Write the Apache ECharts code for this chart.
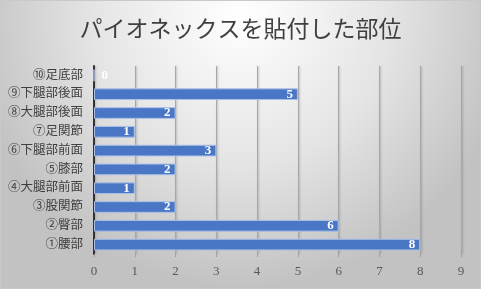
<!DOCTYPE html>
<html>
<head>
<meta charset="utf-8">
<script src="https://cdn.jsdelivr.net/npm/echarts@6/dist/echarts.min.js"></script>
<style>
  html, body { margin: 0; padding: 0; background: #fff; }
  #chart { width: 481px; height: 289px; box-sizing: border-box; border: 1px solid #c9c9c9; }
</style>
</head>
<body>
<div id="chart"></div>
<script>
// 部位（下から上へ）と件数
const parts = ["①腰部", "②臀部", "③股関節", "④大腿部前面", "⑤膝部", "⑥下腿部前面", "⑦足関節", "⑧大腿部後面", "⑨下腿部後面", "⑩足底部"];
const counts = [8, 6, 2, 1, 2, 3, 1, 2, 5, 0];
const xTicks = [0, 9, 1]; // min, max, interval

const chart = echarts.init(document.getElementById("chart"), null, { renderer: "canvas" });

const text = "#404040";
const font = "'Liberation Serif', 'Noto Sans CJK JP', serif";

chart.setOption({
  backgroundColor: {
    type: "radial", x: 0.5, y: 0.05, r: 0.95,
    colorStops: [
      { offset: 0, color: "#ffffff" },
      { offset: 0.55, color: "#e4e4e4" },
      { offset: 1, color: "#c2c2c2" }
    ]
  },
  textStyle: { fontFamily: font },
  title: {
    text: "パイオネックスを貼付した部位",
    left: "center",
    top: 13,
    textStyle: { color: text, fontSize: 23, fontWeight: "normal", fontFamily: font }
  },
  grid: { left: 93, right: 19, top: 65, bottom: 34 },
  xAxis: {
    type: "value",
    min: xTicks[0],
    max: xTicks[1],
    interval: xTicks[2],
    axisLine: { show: false },
    axisTick: { show: true, length: 3, lineStyle: { color: "#a0a0a0" } },
    axisLabel: { color: "#595959", fontSize: 13, margin: 11, fontFamily: font },
    splitLine: {
      lineStyle: {
        color: "#a8a8a8", width: 1,
        shadowColor: "rgba(0,0,0,0.25)", shadowBlur: 2, shadowOffsetX: 1
      }
    }
  },
  yAxis: {
    type: "category",
    data: parts,
    axisLine: { show: true, lineStyle: { color: "#333333", width: 2 } },
    axisTick: { show: false },
    axisLabel: { color: text, fontSize: 12.5, margin: 11, fontFamily: font }
  },
  series: [{
    type: "bar",
    data: counts.map(v => v === 0
      ? { value: v, label: { position: "right", distance: 7 } }
      : v),
    barWidth: "62%",
    itemStyle: { color: "#4a76c6", borderColor: "#a9bfe6", borderWidth: 1 },
    label: {
      show: true,
      position: "insideRight",
      distance: 5,
      color: "#ffffff",
      fontWeight: "bold",
      fontSize: 13,
      fontFamily: font
    },
    z: 3
  }]
});
</script>
</body>
</html>
